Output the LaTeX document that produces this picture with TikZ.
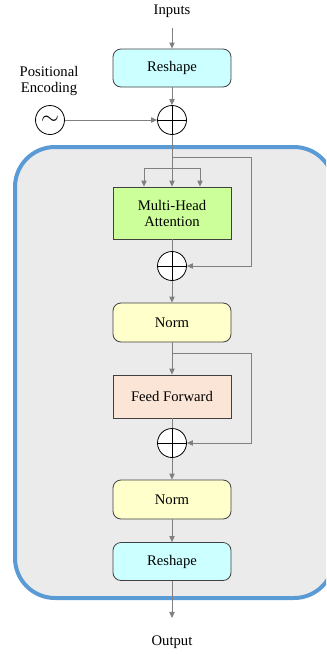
\documentclass[tikz,border=0pt]{standalone}
\usepackage{fontspec}
\setmainfont{Liberation Serif}
\usetikzlibrary{arrows.meta}
\definecolor{edgeblue}{HTML}{5B9BD5}
\definecolor{panel}{HTML}{EBEBEB}
\definecolor{cyanfill}{HTML}{CCFFFF}
\definecolor{greenfill}{HTML}{CCFF99}
\definecolor{yellowfill}{HTML}{FFFFCC}
\definecolor{peachfill}{HTML}{FBE5D6}
\definecolor{wire}{HTML}{808080}
\definecolor{border}{HTML}{404040}
\begin{document}
\begin{tikzpicture}[x=0.75pt,y=-0.75pt,
  font=\fontsize{11}{13}\selectfont,
  box/.style={draw=border, line width=0.6pt, minimum width=88.5pt, inner sep=0pt, align=center},
  rbox/.style={box, rounded corners=6pt},
  addop/.style={circle, draw=black, fill=white, line width=0.6pt, minimum size=21.75pt, inner sep=0pt},
  wirel/.style={draw=wire, line width=0.6pt},
  arr/.style={wirel, -{Triangle[length=4.5pt,width=4pt]}},
  lbl/.style={inner sep=0pt, align=center}
]
\useasboundingbox (0,0) rectangle (326,654);
\begin{scope}
\clip (0,0) rectangle (326,654);
\draw[edgeblue, line width=3pt, fill=panel, rounded corners=30pt] (15,147) rectangle (334,598);
\end{scope}

\node[lbl] (in) at (172,11) {Inputs};
\node[rbox, fill=cyanfill, minimum height=28.5pt] (rs1) at (172,68) {Reshape};
\node[lbl] (pe) at (49,80.5) {Positional\\[-1pt]Encoding};
\node[addop] (tl) at (50,120) {\fontsize{19}{19}\selectfont$\sim$};
\node[addop] (p1) at (172,120) {};
\node[box, fill=greenfill, minimum height=39pt] (mha) at (172,213) {Multi-Head\\[-1pt]Attention};
\node[addop] (p2) at (172,266) {};
\node[rbox, fill=yellowfill, minimum height=29.25pt] (n1) at (172,322.5) {Norm};
\node[box, fill=peachfill, minimum height=32.25pt] (ff) at (172,396.5) {Feed Forward};
\node[addop] (p3) at (172,443) {};
\node[rbox, fill=yellowfill, minimum height=29.25pt] (n2) at (172,499.5) {Norm};
\node[rbox, fill=cyanfill, minimum height=28.5pt] (rs2) at (172,561.5) {Reshape};
\node[lbl] (out) at (172,642) {Output};

\coordinate (j1) at (172,157);
\coordinate (j1r) at (251,157);
\coordinate (j2) at (172,168);
\coordinate (j2l) at (144,168);
\coordinate (j2r) at (200,168);
\coordinate (j3) at (172,353);
\coordinate (j3r) at (251,353);

% input path
\draw[arr, shorten <=8pt] (in.south) -- (rs1.north);
\draw[arr] (rs1.south) -- (p1.north);
\draw[arr] (tl.east) -- (p1.west);

% attention block
\draw[wirel] (p1.south) -- (j2);
\draw[wirel] (j2l) -- (j2r);
\draw[arr] (j2) -- (mha.north);
\draw[arr] (j2l) -- (mha.north -| j2l);
\draw[arr] (j2r) -- (mha.north -| j2r);
\draw[arr] (j1) -- (j1r) -- (j1r |- p2) -- (p2.east);
\draw[wirel] (mha.south) -- (p2.north);
\draw[arr] (p2.south) -- (n1.north);

% feed forward block
\draw[arr] (n1.south) -- (ff.north);
\draw[arr] (j3) -- (j3r) -- (j3r |- p3) -- (p3.east);
\draw[wirel] (ff.south) -- (p3.north);
\draw[arr] (p3.south) -- (n2.north);
\draw[arr] (n2.south) -- (rs2.north);
\draw[arr, shorten >=13pt] (rs2.south) -- (out.north);

% plus signs
\foreach \p in {p1,p2,p3}{
  \draw[black, line width=0.6pt] (\p.north) -- (\p.south) (\p.west) -- (\p.east);
}
\end{tikzpicture}
\end{document}
